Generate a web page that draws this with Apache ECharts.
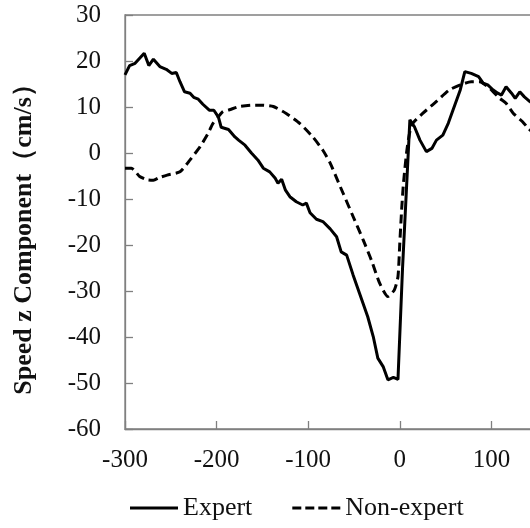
<!DOCTYPE html>
<html>
<head>
<meta charset="utf-8">
<script src="https://cdn.jsdelivr.net/npm/echarts@6/dist/echarts.min.js"></script>
<style>html,body{margin:0;padding:0;background:#fff}#c{width:530px;height:528px}</style>
</head>
<body>
<div id="c"></div>
<script>
const expertX = [-300,-295,-289,-284,-279,-274,-269,-262,-255,-249,-244,-240,-235,-229,-225,-220,-215,-208,-203,-198,-195,-187,-180,-176,-169,-162,-155,-149,-142,-136,-133,-129,-125,-120,-113,-106,-102,-98,-91,-84,-76,-69,-64,-58,-51,-44,-35,-29,-24,-18,-13,-7,-2,3,11,16,22,29,35,40,47,53,58,66,71,78,86,91,96,102,107,111,116,122,126,131,136,142,146];
const expertY = [17.0,19.0,19.5,20.6,21.7,19.0,20.4,18.8,18.2,17.3,17.5,15.5,13.3,13.0,12.1,11.7,10.6,9.3,9.3,7.8,5.6,5.1,3.5,2.8,1.7,0.0,-1.5,-3.3,-4.1,-5.5,-6.6,-5.7,-8.0,-9.5,-10.6,-11.3,-10.9,-13.0,-14.4,-14.9,-16.5,-18.2,-21.5,-22.2,-26.5,-30.5,-35.6,-39.9,-44.6,-46.5,-49.3,-48.8,-49.2,-25.0,7.2,5.7,2.8,0.3,1.0,2.8,3.9,6.5,9.3,13.7,17.7,17.3,16.6,15.2,14.8,13.7,13.0,12.6,14.4,13.0,11.9,13.3,12.2,11.2,10.5];
const nonExpertX = [-300,-293,-284,-276,-269,-262,-254,-240,-229,-218,-210,-204,-198,-193,-186,-175,-160,-150,-138,-124,-109,-95,-84,-76,-67,-62,-51,-40,-31,-22,-13,-6,-2,0,2,4,8,13,25,40,54,66,78,87,98,109,116,124,134,140,146];
const nonExpertY = [-3.3,-3.3,-5.1,-5.8,-5.9,-5.3,-4.8,-4.1,-1.5,1.4,4.0,6.4,7.9,9.0,9.4,10.1,10.4,10.4,10.1,8.6,6.4,3.5,0.6,-2.2,-6.4,-8.7,-13.8,-18.9,-23.3,-28.3,-31.2,-29.8,-26.9,-19.6,-12.4,-6.6,1.0,6.1,8.6,11.2,13.7,14.8,15.5,15.5,14.1,11.9,10.8,8.6,6.8,5.4,4.3];
const seriesNames = ['Expert', 'Non-expert'];
const yAxisName = 'Speed z Component（cm/s）';

const zip = (xs, ys) => xs.map((x, i) => [x, ys[i]]);
const chart = echarts.init(document.getElementById('c'), null, {renderer: 'canvas'});
const serif = '"Liberation Serif", "Times New Roman", serif';
chart.setOption({
  animation: false,
  backgroundColor: '#fff',
  grid: {left: 125, top: 15, height: 414, width: 458, outerBoundsMode: 'none', containLabel: false,
         show: true, borderColor: '#808080', borderWidth: 1.3},
  legend: {
    bottom: 2, left: 125,
    itemWidth: 48, itemHeight: 3, itemGap: 40,
    textStyle: {fontFamily: serif, fontSize: 26, color: '#111'},
    data: [
      {name: seriesNames[0], icon: 'rect'},
      {name: seriesNames[1], icon: 'path://M0,0h9v3h-9zM13,0h9v3h-9zM26,0h9v3h-9zM39,0h9v3h-9z'}
    ]
  },
  xAxis: {
    type: 'value', min: -300, max: 200, interval: 100,
    axisLine: {show: true, onZero: false, lineStyle: {color: '#808080', width: 1.3}},
    axisTick: {show: true, inside: true, length: 8, lineStyle: {color: '#808080', width: 1.3}},
    axisLabel: {fontFamily: serif, fontSize: 25, color: '#111', margin: 19},
    splitLine: {show: false}
  },
  yAxis: {
    type: 'value', min: -60, max: 30, interval: 10,
    name: yAxisName, nameLocation: 'middle', nameGap: 88,
    nameTextStyle: {fontFamily: serif, fontSize: 26, fontWeight: 'bold', color: '#111', padding: [0, 22, 0, 0]},
    axisLine: {show: true, onZero: false, lineStyle: {color: '#808080', width: 1.3}},
    axisTick: {show: true, inside: true, length: 8, lineStyle: {color: '#808080', width: 1.3}},
    axisLabel: {fontFamily: serif, fontSize: 25, color: '#111', margin: 24},
    splitLine: {show: false}
  },
  series: [
    {name: seriesNames[0], type: 'line', data: zip(expertX, expertY), symbol: 'none',
     lineStyle: {color: '#000', width: 3}, itemStyle: {color: '#000'}},
    {name: seriesNames[1], type: 'line', data: zip(nonExpertX, nonExpertY), symbol: 'none', smooth: 0.2,
     lineStyle: {color: '#000', width: 3, type: [9, 5]}, itemStyle: {color: '#000'}}
  ]
});
</script>
</body>
</html>
